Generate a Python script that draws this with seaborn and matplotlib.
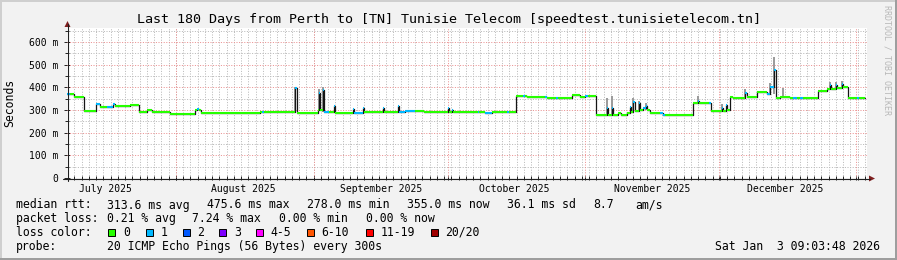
import numpy as np
import pandas as pd
import matplotlib
matplotlib.use("Agg")
import matplotlib.pyplot as plt
import seaborn as sns
from matplotlib.lines import Line2D
from matplotlib.patches import Rectangle, Polygon

# ---------------- data ----------------
title = "Last 180 Days from Perth to [TN] Tunisie Telecom [speedtest.tunisietelecom.tn]"
start_time = "2025-07-07 09:03:48"
end_time = "2026-01-03 09:03:48"

# median rtt trace: breakpoints (days since start_time), value in ms, lost pings class
days = [0.0, 0.7, 1.6, 3.8, 6.5, 7.4, 9.0, 10.4, 10.8, 14.2, 16.2, 18.0, 19.1, 20.9, 23.2,
        28.8, 29.3, 29.7, 30.2, 43.4, 43.9, 44.3, 46.8, 51.4, 51.75, 56.0, 56.5, 56.7, 56.9,
        57.5, 57.8, 59.0, 60.1, 60.3, 64.4, 64.6, 66.6, 66.8, 71.1, 71.3, 74.5, 74.7, 76.0,
        78.3, 80.3, 85.7, 85.9, 86.6, 86.9, 92.4, 92.8, 94.0, 95.7, 99.0, 99.4, 101.0, 102.6,
        103.0, 103.5, 107.5, 108.0, 110.0, 110.5, 113.6, 115.4, 116.6, 117.2, 119.0, 121.5,
        121.7, 122.6, 122.9, 124.0, 124.7, 126.0, 126.7, 126.9, 127.4, 127.7, 128.7, 128.9,
        129.6, 130.3, 130.5, 131.2, 133.5, 134.1, 134.6, 140.8, 142.0, 142.2, 144.5, 144.8,
        147.3, 147.7, 148.3, 148.6, 149.2, 149.9, 152.6, 152.9, 155.3, 157.5, 158.2, 159.1,
        159.5, 160.4, 162.7, 163.4, 164.2, 165.0, 165.6, 169.0, 171.0, 171.6, 172.0, 173.0,
        173.3, 174.4, 174.7, 175.7, 177.8, 178.3, 179.6]
median_ms = [370, 370, 358, 297, 326, 312, 313, 326, 318, 320, 293, 300, 293, 290, 284,
             300, 306, 300, 288, 292, 290, 290, 293, 396, 286, 285, 300, 376, 300,
             388, 290, 290, 318, 286, 305, 286, 309, 290, 310, 291, 318, 292, 297,
             297, 290, 310, 290, 302, 290, 290, 292, 287, 290, 290, 290, 363, 363,
             363, 357, 357, 351, 351, 351, 366, 358, 363, 363, 279, 307,
             279, 311, 279, 288, 279, 288, 315, 290, 337, 295, 330, 300,
             307, 318, 300, 288, 288, 278, 278, 333, 340, 333, 333, 297,
             310, 297, 320, 300, 359, 352, 374, 358, 381, 372, 403, 476,
             352, 356, 352, 352, 352, 354, 354, 386, 392, 410, 392, 412,
             395, 415, 400, 354, 354, 355, 355]
loss_pings = [1, 0, 0, 0, 1, 0, 1, 1, 0, 0, 0, 0, 0, 0, 0,
              0, 1, 0, 0, 0, 1, 0, 0, 1, 0, 0, 0, 1, 0,
              1, 1, 0, 1, 0, 1, 1, 1, 0, 1, 0, 1, 1, 1,
              0, 0, 1, 0, 1, 0, 1, 0, 1, 0, 1, 0, 0, 1,
              0, 0, 1, 0, 1, 0, 0, 0, 1, 0, 0, 1,
              0, 1, 0, 0, 0, 0, 1, 0, 1, 0, 1, 0,
              1, 1, 0, 0, 1, 1, 0, 0, 1, 0, 1, 0,
              1, 0, 1, 0, 0, 0, 1, 0, 0, 1, 1, 1,
              0, 0, 0, 1, 0, 1, 0, 0, 0, 1, 0, 1,
              0, 1, 0, 0, 1, 0, 0]

# smoke (spread of the individual pings) around spikes
smoke_days = [51.4, 56.7, 57.5, 121.5, 122.6, 127.4, 128.7, 130.3, 142.0, 147.3, 152.6,
              158.2, 159.1, 161.1, 171.6, 173.0, 174.4]
smoke_low_ms = [286, 300, 290, 279, 279, 290, 300, 300, 333, 297, 358, 372, 372, 356, 392, 395, 400]
smoke_high_ms = [402, 394, 400, 352, 362, 352, 342, 332, 360, 326, 392, 420, 535, 396, 422, 424, 428]

month_starts = ["2025-08-01", "2025-09-01", "2025-10-01", "2025-11-01", "2025-12-01", "2026-01-01"]
month_label_dates = ["2025-07-16", "2025-08-16", "2025-09-16", "2025-10-16", "2025-11-16", "2025-12-16"]
month_labels = ["July 2025", "August 2025", "September 2025", "October 2025", "November 2025", "December 2025"]
y_ticks_ms = [0, 100, 200, 300, 400, 500, 600]

rtt_stats = [313.6, 475.6, 278.0, 355.0]
rtt_sd = 36.1
rtt_ams = 8.7
loss_stats = [0.21, 7.24, 0.00, 0.00]
loss_labels = ["0", "1", "2", "3", "4-5", "6-10", "11-19", "20/20"]
loss_colors = ["#26ff00", "#00b8ff", "#0059ff", "#7e00ff", "#ff00ff", "#ff5500", "#ff0000", "#a00000"]
probe_text = "20 ICMP Echo Pings (56 Bytes) every 300s"
stamp = "Sat Jan  3 09:03:48 2026"

# ---------------- drawing ----------------
sns.set_theme(style="white")
plt.rcParams['font.family'] = ['DejaVu Sans Mono']
plt.rcParams['text.color'] = 'black'

W, H = 897, 260
def fx(px):
    return px / W
def fy(py):
    return 1 - py / H

fig = plt.figure(figsize=(W / 100, H / 100), dpi=100, facecolor='#f2f2f2')
ax = fig.add_axes([fx(67), fy(178), 800 / W, 150 / H])
ax.set_facecolor('white')

t0 = pd.Timestamp(start_time)
def to_day(d):
    return (pd.Timestamp(d) - t0) / pd.Timedelta(days=1)

XMAX = to_day(end_time)
YMAX = 662
ax.set_xlim(0, XMAX)
ax.set_ylim(0, YMAX)
for s in ax.spines.values():
    s.set_visible(False)

# grid
minor_x = np.arange(1.632, XMAX, 1.632)
major_x = [to_day(d) for d in month_starts]
dot = (0, (1, 1.6))
for x in minor_x:
    ax.axvline(x, color='#b9b9b9', lw=0.72, ls=dot, zorder=0)
for y in range(50, YMAX, 100):
    ax.axhline(y, color='#b9b9b9', lw=0.72, ls=dot, zorder=0)
for x in major_x:
    ax.axvline(x, color='#eb9090', lw=0.72, ls=dot, zorder=1)
for y in y_ticks_ms[1:]:
    ax.axhline(y, color='#eb9090', lw=0.72, ls=dot, zorder=1)

# smoke
ax.vlines(smoke_days, smoke_low_ms, smoke_high_ms, colors='#9a9a9a', lw=1.4, zorder=2)

# median line: black step connectors + coloured horizontal segments
df = pd.DataFrame({'day': days, 'ms': median_ms})
sns.lineplot(data=df, x='day', y='ms', drawstyle='steps-post', color='#151515', lw=0.9,
             ax=ax, estimator=None, sort=False, zorder=3, legend=False)
d = np.array(days)
m = np.array(median_ms)
seg_cols = [loss_colors[k] for k in loss_pings[:-1]]
ax.hlines(m[:-1], d[:-1], d[1:], colors=seg_cols, lw=1.5, zorder=4)
ax.set_xlabel('')
ax.set_ylabel('')

# ticks
ax.set_yticks(y_ticks_ms)
ax.set_yticklabels([f"{v} m" if v else "0" for v in y_ticks_ms])
ax.set_yticks(list(range(50, YMAX, 100)), minor=True)
ax.set_xticks([to_day(x) for x in month_label_dates])
ax.set_xticklabels(month_labels)
ax.set_xticks(sorted(list(minor_x) + major_x), minor=True)
ax.tick_params(axis='x', which='major', length=0, pad=4.5, labelsize=7, labelcolor='black')
ax.tick_params(axis='x', which='minor', length=3, width=0.7, direction='inout', color='#202020')
ax.tick_params(axis='y', which='major', length=4, width=0.7, direction='inout', color='#202020',
               pad=4, labelsize=7, labelcolor='black')
ax.tick_params(axis='y', which='minor', length=3, width=0.7, direction='inout', color='#202020')
ax.tick_params(bottom=True, left=True, which='both')

# axes lines with arrows
axis_col = '#202020'
arrow_col = '#7f1f1f'
fig.add_artist(Line2D([fx(63), fx(870)], [fy(178.5), fy(178.5)], color=axis_col, lw=0.8))
fig.add_artist(Line2D([fx(67.5), fx(67.5)], [fy(181), fy(24)], color=axis_col, lw=0.8))
fig.add_artist(Polygon([[fx(869), fy(175.5)], [fx(875), fy(178.5)], [fx(869), fy(181.5)]],
                       closed=True, transform=fig.transFigure, color=arrow_col, lw=0))
fig.add_artist(Polygon([[fx(64.5), fy(27)], [fx(67.5), fy(21)], [fx(70.5), fy(27)]],
                       closed=True, transform=fig.transFigure, color=arrow_col, lw=0))

# texts
fig.text(0.5, fy(19), title, ha='center', va='center', fontsize=9.6)
fig.text(fx(10), fy(103), "Seconds", rotation=90, ha='center', va='center', fontsize=8.3)
fig.text(fx(887), fy(5), "RRDTOOL / TOBI OETIKER", rotation=-90, ha='center', va='top',
         fontsize=6, color='#b8b8b8')

fs = 8.3
row1 = [("median rtt:", 16), (f"{rtt_stats[0]:.1f} ms avg", 107.3), (f"{rtt_stats[1]:.1f} ms max", 206.7),
        (f"{rtt_stats[2]:.1f} ms min", 307.3), (f"{rtt_stats[3]:.1f} ms now", 407.3),
        (f"{rtt_sd:.1f} ms sd", 507.3), (f"{rtt_ams:.1f}", 593.3), ("am/s", 635)]
row2 = [("packet loss:", 16), (f"{loss_stats[0]:.2f} % avg", 107.3), (f"{loss_stats[1]:.2f} % max", 192.3),
        (f"{loss_stats[2]:.2f} % min", 279.3), (f"{loss_stats[3]:.2f} % now", 365.7)]
for txt, x in row1:
    fig.text(fx(x), fy(205), txt, ha='left', va='center', fontsize=fs)
for txt, x in row2:
    fig.text(fx(x), fy(218.5), txt, ha='left', va='center', fontsize=fs)

fig.text(fx(16), fy(232.3), "loss color:", ha='left', va='center', fontsize=fs)
sq_x = [108.3, 145.7, 182.7, 219.3, 256, 306.7, 365.7, 430.7]
for lab, col, x in zip(loss_labels, loss_colors, sq_x):
    fig.add_artist(Rectangle((fx(x), fy(236)), 7 / W, 7 / H, transform=fig.transFigure,
                             facecolor=col, edgecolor='black', lw=0.7))
    fig.text(fx(x + 14.8), fy(232.3), lab, ha='left', va='center', fontsize=fs)

fig.text(fx(16), fy(246.7), "probe:", ha='left', va='center', fontsize=fs)
fig.text(fx(107.3), fy(246.7), probe_text, ha='left', va='center', fontsize=fs)
fig.text(fx(880), fy(246.7), stamp, ha='right', va='center', fontsize=fs)

# bevel border
fig.add_artist(Rectangle((0, 0), 2 / W, 1, transform=fig.transFigure, color='#cfcfcf', lw=0))
fig.add_artist(Rectangle((0, 1 - 2 / H), 1, 2 / H, transform=fig.transFigure, color='#cfcfcf', lw=0))
fig.add_artist(Rectangle((1 - 2 / W, 0), 2 / W, 1, transform=fig.transFigure, color='#9e9e9e', lw=0))
fig.add_artist(Rectangle((0, 0), 1, 2 / H, transform=fig.transFigure, color='#9e9e9e', lw=0))

fig.savefig("out.png", dpi=100, facecolor=fig.get_facecolor())
